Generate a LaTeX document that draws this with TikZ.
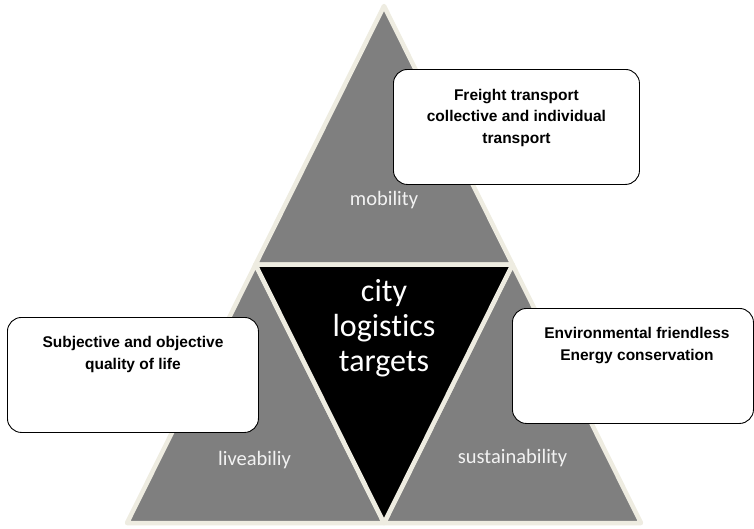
\documentclass[tikz,border=0pt]{standalone}
\usepackage{fontspec}
\usetikzlibrary{calc}
\newfontfamily\boxfont{Liberation Sans}
\newfontfamily\calfont[Ligatures = NoCommon]{Carlito}
\definecolor{edge}{HTML}{EEECE1}
\definecolor{part}{HTML}{7F7F7F}
\definecolor{labeltext}{HTML}{F2F2F2}

\begin{document}
\begin{tikzpicture}[x = 1pt, y = -1pt,
    piece/.style = {draw = edge, line width = 4.5pt, line join = round},
    goal/.style = {draw, fill = white, line width = .9pt, rounded corners = 14pt,
                   anchor = north west, align = center, inner sep = 0pt,
                   minimum height = 115pt,
                   font = \boxfont\bfseries\fontsize{15.5}{21.5}\selectfont},
    twolines/.style = {text height = 52pt, text depth = 63pt},
    threelines/.style = {text height = 74pt, text depth = 41pt},
    aim/.style = {text = labeltext, font = \calfont\fontsize{20.5}{24}\selectfont}]
      \useasboundingbox (0,0) rectangle (754,528);
      % the big triangle and its three corners
      \coordinate (apex) at (384,6);
      \coordinate (botl) at (127,523);
      \coordinate (botr) at (641,523);
      \coordinate (midl) at ($(apex)!.5!(botl)$);
      \coordinate (midr) at ($(apex)!.5!(botr)$);
      \coordinate (midb) at ($(botl)!.5!(botr)$);
      \draw [piece, fill = part] (apex) -- (midl) -- (midr) -- cycle;
      \draw [piece, fill = part] (midl) -- (botl) -- (midb) -- cycle;
      \draw [piece, fill = part] (midr) -- (midb) -- (botr) -- cycle;
      \draw [piece, fill = black] (midl) -- (midr) -- (midb) -- cycle;
      \node [aim] (mobility) at (384,200) {mobility};
      \node [aim] (liveability) at (254.5,460) {liveabiliy};
      \node [aim] (sustainability) at (512.5,458) {sustainability};
      \node [text = white, align = center,
             font = \calfont\fontsize{32}{35}\selectfont]
        (targets) at (384,328) {city\\logistics\\targets};
      % what each corner stands for
      \node [goal, threelines, minimum width = 246pt] (freight) at (393,69)
        {Freight transport\\collective and individual\\transport};
      \node [goal, twolines, minimum width = 251pt] (quality) at (7,317)
        {Subjective and objective\\quality of life};
      \node [goal, twolines, minimum width = 241pt] (environment) at (512,308)
        {\hspace*{8pt}Environmental friendless\\\hspace*{8pt}Energy conservation};
    \end{tikzpicture}
\end{document}
